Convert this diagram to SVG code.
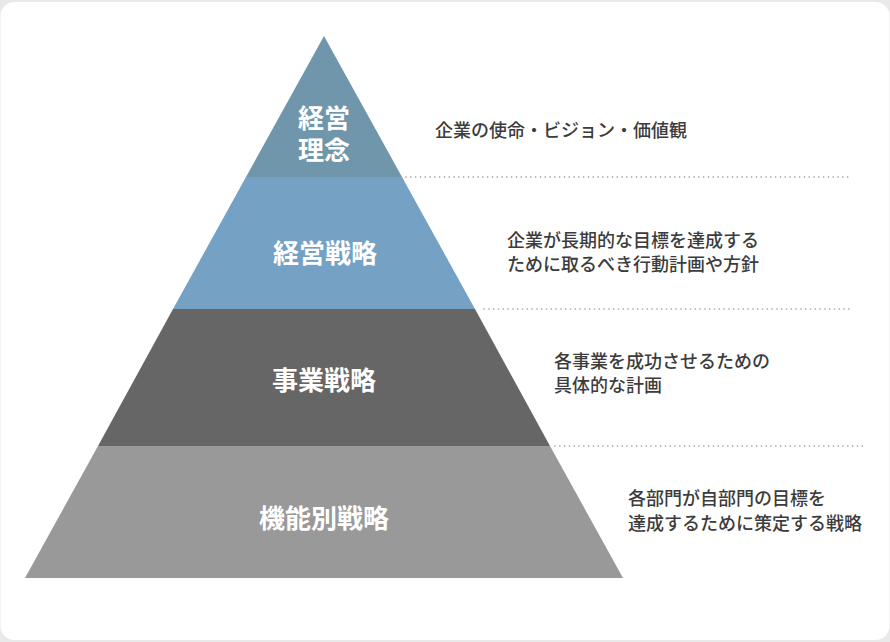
<svg xmlns="http://www.w3.org/2000/svg" width="890" height="642" viewBox="0 0 890 642">
  <style>
    .lbl { font-family: "Noto Sans CJK JP", "Noto Sans", sans-serif; font-weight: 700; font-size: 26px; fill: #ffffff; text-anchor: middle; }
    .desc { font-family: "Noto Sans CJK JP", "Noto Sans", sans-serif; font-weight: 500; font-size: 18px; fill: #3c3c3c; }
    .dot { stroke: #9a9a9a; stroke-width: 1.6; stroke-dasharray: 0.1 4.7; stroke-linecap: round; fill: none; }
  </style>
  <rect x="0" y="0" width="890" height="642" fill="#e9e9e9"/>
  <rect x="0.5" y="2" width="889" height="638" rx="14" fill="#ffffff"/>

  <g id="connectors">
    <line class="dot" x1="406" y1="177" x2="850" y2="177"/>
    <line class="dot" x1="484" y1="309" x2="852" y2="309"/>
    <line class="dot" x1="555" y1="446" x2="866" y2="446"/>
  </g>

  <g id="node-philosophy">
    <polygon points="324,36 402,177 246,177" fill="#7096ab"/>
    <text class="lbl" x="324" y="128">経営</text>
    <text class="lbl" x="324" y="160">理念</text>
    <text class="desc" x="435" y="137">企業の使命・ビジョン・価値観</text>
  </g>

  <g id="node-corporate-strategy">
    <polygon points="246,177 402,177 475,309 173,309" fill="#75a1c4"/>
    <text class="lbl" x="325" y="263">経営戦略</text>
    <text class="desc" x="507" y="247">企業が長期的な目標を達成する</text>
    <text class="desc" x="507" y="271">ために取るべき行動計画や方針</text>
  </g>

  <g id="node-business-strategy">
    <polygon points="173,309 475,309 550,446 98,446" fill="#666666"/>
    <text class="lbl" x="324" y="390">事業戦略</text>
    <text class="desc" x="554" y="368">各事業を成功させるための</text>
    <text class="desc" x="554" y="392">具体的な計画</text>
  </g>

  <g id="node-functional-strategy">
    <polygon points="98,446 550,446 623,578 25,578" fill="#999999"/>
    <text class="lbl" x="324" y="528">機能別戦略</text>
    <text class="desc" x="628" y="505">各部門が自部門の目標を</text>
    <text class="desc" x="628" y="530">達成するために策定する戦略</text>
  </g>
</svg>
